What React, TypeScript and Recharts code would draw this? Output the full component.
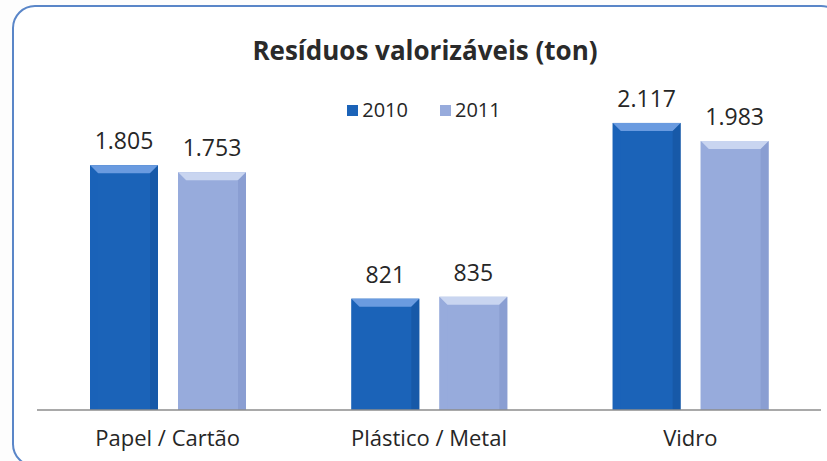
import React from 'react';
import { BarChart, Bar, XAxis, YAxis, LabelList } from 'recharts';

const categories = ['Papel / Cartão', 'Plástico / Metal', 'Vidro'];
const values2010 = [1805, 821, 2117];
const values2011 = [1753, 835, 1983];
const seriesNames = ['2010', '2011'];
const title = 'Resíduos valorizáveis (ton)';

const data = categories.map((c, i) => ({ name: c, v2010: values2010[i], v2011: values2011[i] }));

const COLORS = ['#1b63b8', '#97abdc'];
const LIGHT = ['#6a9be0', '#c9d5f0'];
const DARK = ['#134f98', '#7d92c8'];
const FONT = '"Open Sans", Lato, sans-serif';

const fmt = (v: any) => {
  const s = String(Math.round(Number(v)));
  return s.replace(/\B(?=(\d{3})+(?!\d))/g, '.');
};

const makeShape = (idx: number) => (props: any) => {
  const { x, y, width, height } = props;
  if (!height || height <= 0) return null;
  const b = 8;
  return (
    <g>
      <rect x={x} y={y} width={width} height={height} fill={COLORS[idx]} />
      <polygon
        points={`${x},${y} ${x + width},${y} ${x + width - b},${y + b} ${x + b},${y + b}`}
        fill={LIGHT[idx]}
      />
      <polygon
        points={`${x},${y} ${x + b},${y + b} ${x + b},${y + height} ${x},${y + height}`}
        fill={COLORS[idx]}
        opacity={0.6}
      />
      <polygon
        points={`${x + width},${y} ${x + width - b},${y + b} ${x + width - b},${y + height} ${x + width},${y + height}`}
        fill={DARK[idx]}
        opacity={0.5}
      />
    </g>
  );
};

export default function App() {
  return (
    <div style={{ position: 'absolute', left: 0, top: 0, width: 827, height: 461, background: '#fdfdfd', overflow: 'hidden' }}>
      <svg width={827} height={461} style={{ position: 'absolute', left: 0, top: 0 }}>
        <rect x={13} y={6} width={830} height={460} rx={22} ry={22} fill="#ffffff" stroke="#5a86c8" strokeWidth={2} />
      </svg>
      <div style={{ position: 'absolute', left: 0, top: 33, width: 850, textAlign: 'center', fontFamily: FONT, fontWeight: 700, fontSize: 26, lineHeight: '34px', color: '#2a2a2a' }}>
        {title}
      </div>
      <div style={{ position: 'absolute', left: 0, top: 96, width: 848, display: 'flex', justifyContent: 'center', gap: 32, fontFamily: FONT, fontSize: 20, lineHeight: '28px', color: '#262626' }}>
        {seriesNames.map((n, i) => (
          <div key={n} style={{ display: 'flex', alignItems: 'center' }}>
            <span style={{ display: 'inline-block', width: 11, height: 11, background: COLORS[i], marginRight: 4 }} />
            <span>{n}</span>
          </div>
        ))}
      </div>
      <div style={{ position: 'absolute', left: 0, top: 0 }}>
        <BarChart width={827} height={461} data={data} margin={{ top: 71, right: 6, left: 37, bottom: 0 }} barSize={68} barGap={20}>
          <YAxis hide domain={[0, 2500]} />
          <XAxis
            dataKey="name"
            height={51}
            axisLine={{ stroke: '#8c8c8c', strokeWidth: 1.5 }}
            tickLine={false}
            tick={{ fontFamily: FONT, fontSize: 22, fill: '#262626' }}
            tickMargin={14}
            interval={0}
          />
          <Bar dataKey="v2010" name={seriesNames[0]} fill={COLORS[0]} shape={makeShape(0)} isAnimationActive={false}>
            <LabelList dataKey="v2010" position="top" offset={16} formatter={fmt} style={{ fontFamily: FONT, fontSize: 23, fill: '#262626' }} />
          </Bar>
          <Bar dataKey="v2011" name={seriesNames[1]} fill={COLORS[1]} shape={makeShape(1)} isAnimationActive={false}>
            <LabelList dataKey="v2011" position="top" offset={16} formatter={fmt} style={{ fontFamily: FONT, fontSize: 23, fill: '#262626' }} />
          </Bar>
        </BarChart>
      </div>
    </div>
  );
}
